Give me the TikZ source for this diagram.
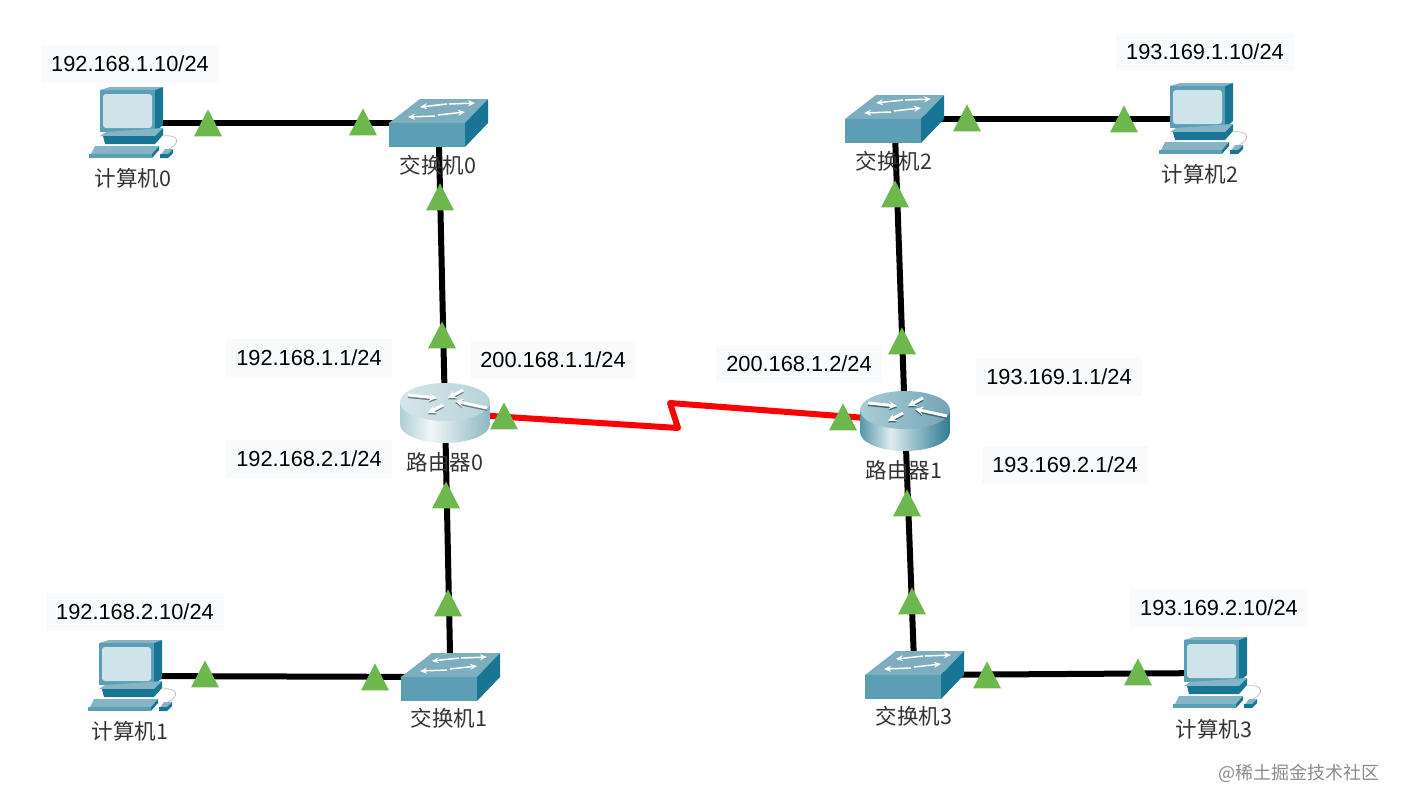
\documentclass[tikz,border=0pt]{standalone}
\usepackage{fontspec}
\setmainfont{Liberation Sans}
\newfontfamily\cjk{Noto Sans CJK SC}
\usetikzlibrary{arrows.meta, shapes.geometric}
\definecolor{caseface}{RGB}{92,158,179}
\definecolor{casetop}{RGB}{133,181,196}
\definecolor{caseside}{RGB}{24,118,148}
\definecolor{screenblue}{RGB}{207,227,234}
\definecolor{swtop}{RGB}{125,174,192}
\definecolor{tagfill}{RGB}{248,250,252}
\definecolor{flag}{RGB}{108,184,76}
\definecolor{inklabel}{RGB}{51,51,51}
\definecolor{wmgrey}{RGB}{140,140,140}
\definecolor{rulewire}{RGB}{190,190,190}
\definecolor{rtlightl}{RGB}{176,206,214}
\definecolor{rtlightm}{RGB}{240,246,247}
\definecolor{rtlightr}{RGB}{140,184,196}
\definecolor{rttopal}{RGB}{214,229,233}
\definecolor{rttopar}{RGB}{184,210,218}
\definecolor{rtdarkl}{RGB}{88,150,170}
\definecolor{rtdarkm}{RGB}{222,236,240}
\definecolor{rtdarkr}{RGB}{44,122,146}
\definecolor{rttopbl}{RGB}{170,205,215}
\definecolor{rttopbr}{RGB}{115,165,182}
\pgfdeclarehorizontalshading{rtbodylight}{100bp}{color(0bp)=(rtlightl); color(25bp)=(rtlightl);
  color(42bp)=(rtlightm); color(75bp)=(rtlightr); color(100bp)=(rtlightr)}
\pgfdeclarehorizontalshading{rtbodydark}{100bp}{color(0bp)=(rtdarkl); color(25bp)=(rtdarkl);
  color(42bp)=(rtdarkm); color(75bp)=(rtdarkr); color(100bp)=(rtdarkr)}
\tikzset{
  pics/pc/.style={code={
    \begin{scope}[shift={(-43,-37)}]
      \fill[casetop] (12,4) -- (22,1) -- (75,1) -- (67,4) -- cycle;
      \fill[caseside] (67,4) -- (75,1) -- (75,39) -- (67,46) -- cycle;
      \fill[caseface] (12,4) rectangle (67,46);
      \fill[screenblue, rounded corners=3pt] (15,8) rectangle (64,42);
      \fill[casetop] (12,50) -- (18,46) -- (75,42) -- (67,50) -- cycle;
      \fill[caseside] (15,50) -- (67,50) -- (75,42) -- (75,49) -- (67,58) -- (17,58) -- cycle;
      \fill[casetop] (1,72) -- (7,60) -- (71,60) -- (64,68) -- (1,68) -- cycle;
      \fill[caseside] (64,68) -- (71,60) -- (71,64) -- (64,72) -- cycle;
      \fill[caseface] (1,68) rectangle (64,72);
      \fill[casetop] (72,70) -- (77,63) -- (85,63) -- (80,68) -- cycle;
      \fill[caseside] (72,68) -- (80,68) -- (85,63) -- (85,67) -- (80,72) -- (72,72) -- cycle;
      \draw[draw=rulewire, line width=0.7pt] (75,50) .. controls (92,48) and (92,58) .. (81,63);
    \end{scope}
  }},
  pics/switchbox/.style={code={
    \begin{scope}[shift={(-49.5,-24)}]
      \fill[swtop] (0,24) -- (31,0) -- (99,0) -- (76,24) -- cycle;
      \fill[caseface] (0,24) rectangle (76,48);
      \fill[caseside] (76,24) -- (99,0) -- (99,24) -- (76,48) -- cycle;
      \draw[wirearrow] (58,5) -- (31,8);
      \draw[wirearrow] (60,5) -- (86,4);
      \draw[wirearrow] (46,17) -- (19,18);
      \draw[wirearrow] (49,16) -- (76,13);
    \end{scope}
  }},
  pics/routerbox/.style n args={3}{code={
    \begin{scope}[shift={(-45,-30)}]
      \shade[shading=#1]
        (0,19) -- (0,41) arc[start angle=180, end angle=360, x radius=45, y radius=-19]
        -- (90,19) -- cycle;
      \shade[left color=#2, right color=#3] (45,19) ellipse[x radius=45, y radius=19];
      \foreach \ax/\ay/\bx/\by in {8/12/37/15, 63/7/48/15, 43/22/28/30, 87/25/55/18} {
        \draw[rtarrow, draw=black!40!#3] (\ax,\ay+1.5) -- (\bx,\by+1.5);
        \draw[rtarrow] (\ax,\ay) -- (\bx,\by);
      }
    \end{scope}
  }}
}
\begin{document}
\begin{tikzpicture}[
    x=1pt, y=-1pt,
    dev/.style={inner sep=0pt, minimum size=0pt},
    link/.style={draw=black, line width=6pt},
    serial/.style={draw=red, line width=6pt, line join=round},
    wirearrow/.style={-{Stealth[length=7pt, width=6pt]}, draw=white, line width=1.5pt},
    rtarrow/.style={-{Stealth[length=8pt, width=8pt]}, draw=white, line width=3pt},
    flagup/.style={isosceles triangle, isosceles triangle apex angle=55,
               isosceles triangle stretches, shape border rotate=90,
               fill=flag, inner sep=0pt, minimum width=28pt, minimum height=27pt, anchor=apex},
    iptag/.style={fill=tagfill, text=black, font=\fontsize{21.8}{24}\selectfont,
               inner xsep=10pt, inner ysep=0pt, minimum height=38pt},
    devname/.style={text=inklabel, font=\fontsize{21.5}{24}\selectfont\cjk, inner sep=0pt},
  ]
  \useasboundingbox (0,0) rectangle (1402,806);
  % device centres
  \foreach \n/\x/\y in {pc0/131/123, pc1/130/676, pc2/1201/119, pc3/1215/673,
                        sw0/438.5/123, sw1/450.5/677, sw2/894.5/119, sw3/914.5/675,
                        r0/445/413, r1/905/421} {
      \node[dev] (\n) at (\x,\y) {};
  }
  \coordinate (kinkA) at (678,428);
  \coordinate (kinkB) at (670,403);

  % links
  \draw[link] (pc0) -- (sw0);
  \draw[link] (sw0) -- (r0);
  \draw[link] (r0) -- (sw1);
  \draw[link] (pc1) -- (sw1);
  \draw[link] (sw2) -- (r1);
  \draw[link] (r1) -- (sw3);
  \draw[link] (sw2) -- (pc2);
  \draw[link] (sw3) -- (pc3);
  \draw[serial] (r0) -- (kinkA) -- (kinkB) -- (r1);

  % devices
  \foreach \n in {pc0, pc1, pc2, pc3} { \pic at (\n) {pc}; }
  \foreach \n in {sw0, sw1, sw2, sw3} { \pic at (\n) {switchbox}; }
  \pic at (r0) {routerbox={rtbodylight}{rttopal}{rttopar}};
  \pic at (r1) {routerbox={rtbodydark}{rttopbl}{rttopbr}};

  % port flags
  \foreach \i/\x/\y in {1/208/109, 2/363/108, 3/440/183, 4/442/321, 5/504/402, 6/446/481,
                        7/448/589, 8/205/660, 9/375/663, 10/967/104, 11/1124/105,
                        12/895/180, 13/902/327, 14/843/403, 15/907/489, 16/912/587,
                        17/987/661, 18/1138/658} {
      \node[flagup] (flag\i) at (\x,\y) {};
  }

  % addresses
  \node[iptag] (ipa) at (130,64) {192.168.1.10/24};
  \node[iptag] (ipb) at (1205,52) {193.169.1.10/24};
  \node[iptag] (ipc) at (309,358) {192.168.1.1/24};
  \node[iptag] (ipd) at (553,360) {200.168.1.1/24};
  \node[iptag] (ipe) at (309,459) {192.168.2.1/24};
  \node[iptag] (ipf) at (799,364) {200.168.1.2/24};
  \node[iptag] (ipg) at (1059,377) {193.169.1.1/24};
  \node[iptag] (iph) at (1065,465) {193.169.2.1/24};
  \node[iptag] (ipi) at (135,612) {192.168.2.10/24};
  \node[iptag] (ipj) at (1219,608) {193.169.2.10/24};

  % device names
  \node[devname] (lpc0) at (133,178) {计算机0};
  \node[devname] (lpc1) at (130,731) {计算机1};
  \node[devname] (lpc2) at (1200,174) {计算机2};
  \node[devname] (lpc3) at (1214,729) {计算机3};
  \node[devname] (lsw0) at (438,165) {交换机0};
  \node[devname] (lsw1) at (449,718) {交换机1};
  \node[devname] (lsw2) at (894,161) {交换机2};
  \node[devname] (lsw3) at (914,716) {交换机3};
  \node[devname] (lr0) at (445,462) {路由器0};
  \node[devname] (lr1) at (904,470) {路由器1};

  \node[text=wmgrey, font=\fontsize{18}{20}\selectfont\cjk, inner sep=0pt] (wm) at (1299,773) {@稀土掘金技术社区};
\end{tikzpicture}
\end{document}
